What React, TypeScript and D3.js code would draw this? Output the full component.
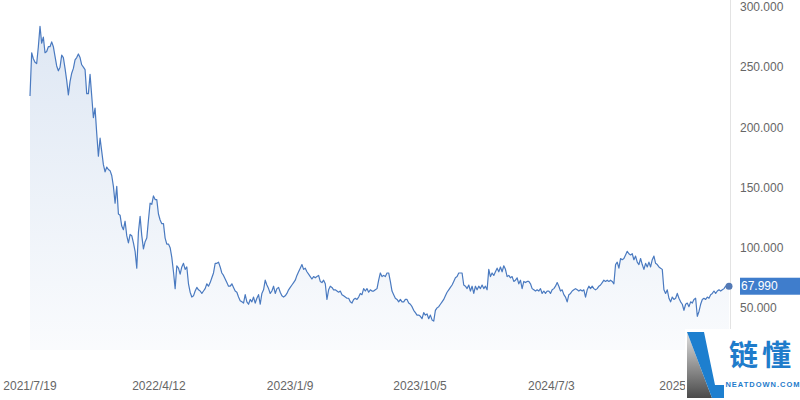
import React from "react";
import * as d3 from "d3";

const startDate = "2021-07-19";
const endDate = "2025-07-06";

const prices: number[] = [
  226,262,257,254,253,267,284,270,275,262,
  263,267,267,271,267,259,251,247,250,260,
  258,249,239,227,238,245,249,256,258,261,
  258,252,250,248,228,228,244,226,208,216,
  195,176,191,180,169,163,167,165,164,160,
  151,137,151,128,127,118,115,122,110,104,
  111,110,104,97,83,113,126,110,99,105,
  108,123,137,136,143,140,140,128,123,120,
  120,108,103,103,100,92,80,66,85,83,
  78,84,87,82,84,70,63,59,60,64,
  67,65,64,62,64,66,70,68,71,75,
  79,87,87,88,84,79,77,74,71,68,
  68,70,67,64,63,59,56,55,54,61,
  55,53,57,55,59,54,58,61,53,62,
  65,73,69,66,62,64,68,62,66,67,
  63,60,59,60,62,65,67,69,71,73,
  77,80,83,86,82,83,80,78,76,74,
  76,75,76,77,72,71,73,70,57,65,
  68,67,65,65,64,63,64,61,60,59,
  58,58,55,54,57,58,57,59,62,61,
  66,64,66,63,65,64,64,65,66,73,
  79,76,77,76,79,79,72,64,61,58,
  57,55,57,55,55,57,57,54,53,51,
  48,46,44,44,43,41,46,44,45,41,
  44,40,39,48,50,51,53,55,57,60,
  63,65,67,69,72,75,76,79,79,79,
  69,68,66,69,64,68,62,68,65,68,
  66,69,66,68,65,82,76,79,77,80,
  83,80,84,80,85,82,76,77,75,76,
  72,73,75,70,73,66,72,71,72,72,
  70,66,65,64,65,64,66,62,64,62,
  64,64,62,65,66,68,71,68,64,65,
  61,59,55,61,62,64,65,66,65,64,
  65,64,65,59,65,68,66,68,66,65,
  66,68,69,71,73,72,73,72,73,72,
  70,86,88,83,91,90,91,94,97,95,
  94,95,90,93,88,86,91,86,82,87,
  84,88,84,90,93,87,86,84,83,82,
  65,62,65,58,55,59,57,58,62,58,
  55,53,48,53,54,51,55,54,57,58,
  43,47,53,57,58,57,59,58,61,62,
  64,62,64,65,64,65,66,68,68,67.99,
];

const xTickLabels = ["2021/7/19", "2022/4/12", "2023/1/9", "2023/10/5", "2024/7/3", "2025/4/1"];
const yTicks = [50, 100, 150, 200, 250, 300];

const FONT = "Arial, 'Liberation Sans', sans-serif";

export default function App() {
  const width = 800;
  const height = 400;
  const t0 = new Date(startDate + "T00:00:00");
  const t1 = new Date(endDate + "T00:00:00");
  const n = prices.length;
  const data = prices.map((v, i) => ({
    date: new Date(t0.getTime() + (i * (t1.getTime() - t0.getTime())) / (n - 1)),
    value: v,
  }));

  const x = d3.scaleTime().domain([t0, t1]).range([30, 729]);
  const y = d3.scaleLinear().domain([15, 300]).range([350, 7]);

  const line = d3
    .line<{ date: Date; value: number }>()
    .x((d) => x(d.date))
    .y((d) => y(d.value));
  const area = d3
    .area<{ date: Date; value: number }>()
    .x((d) => x(d.date))
    .y0(y(15))
    .y1((d) => y(d.value));

  const last = data[data.length - 1];
  const parseLabel = (s: string) => {
    const [yy, mm, dd] = s.split("/").map(Number);
    return new Date(yy, mm - 1, dd);
  };

  return (
    <svg
      width={width}
      height={height}
      style={{ position: "absolute", left: 0, top: 0, background: "#fff" }}
    >
      <defs>
        <linearGradient id="areaGrad" x1="0" y1="0" x2="0" y2="1">
          <stop offset="0%" stopColor="#4a7cc0" stopOpacity={0.18} />
          <stop offset="100%" stopColor="#4a7cc0" stopOpacity={0.03} />
        </linearGradient>
        <linearGradient id="logoGray" x1="0" y1="0" x2="0" y2="1">
          <stop offset="0%" stopColor="#e0e0e0" />
          <stop offset="100%" stopColor="#4a4a4a" />
        </linearGradient>
      </defs>
      <rect x={0} y={0} width={width} height={height} fill="#fff" />
      <path d={area(data) || ""} fill="url(#areaGrad)" />
      <path d={line(data) || ""} fill="none" stroke="#4a7ac0" strokeWidth={1.2} strokeLinejoin="round" />
      <line x1={730.5} x2={730.5} y1={0} y2={350} stroke="#e3e3e3" strokeWidth={1} />
      <circle cx={x(last.date)} cy={y(last.value)} r={3.5} fill="#5379b5" />

      {yTicks.map((t) => (
        <text
          key={t}
          x={740}
          y={y(t)}
          dy="0.35em"
          fontFamily={FONT}
          fontSize={12}
          fill="#666"
        >
          {t.toFixed(3)}
        </text>
      ))}

      <rect x={740} y={y(last.value) - 8.5} width={60} height={17} fill="#3f7dcc" />
      <text
        x={741}
        y={y(last.value)}
        dy="0.35em"
        fontFamily={FONT}
        fontSize={12}
        fill="#fff"
      >
        {last.value.toFixed(3)}
      </text>

      {xTickLabels.map((s) => (
        <text
          key={s}
          x={x(parseLabel(s))}
          y={390}
          textAnchor="middle"
          fontFamily={FONT}
          fontSize={12}
          fill="#666"
        >
          {s}
        </text>
      ))}

      {/* watermark logo */}
      <rect x={685} y={329} width={115} height={71} fill="#fff" />
      <polygon points="687,332 687,398 712,398" fill="url(#logoGray)" />
      <polygon points="687,332 704,332 715,385 724,385 724,398 712,398" fill="#1d7fcf" />
      <text
        x={762}
        y={366}
        textAnchor="middle"
        fontFamily="'Noto Sans CJK SC', sans-serif"
        fontSize={29}
        fontWeight={700}
        letterSpacing={4}
        fill="#1f7ccb"
      >
        链懂
      </text>
      <text
        x={763}
        y={387}
        textAnchor="middle"
        fontFamily={FONT}
        fontSize={7.5}
        fontWeight={700}
        letterSpacing={1}
        fill="#1f7ccb"
      >
        NEATDOWN.COM
      </text>
    </svg>
  );
}
